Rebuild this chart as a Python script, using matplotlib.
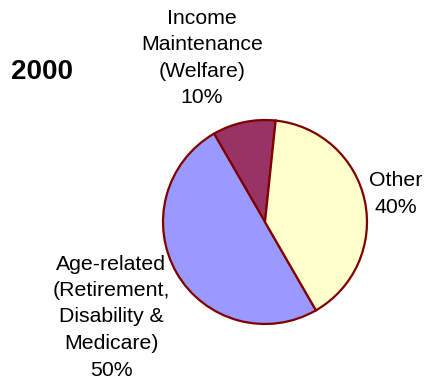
import matplotlib.pyplot as plt

plt.rcParams['font.family'] = ['Liberation Sans', 'DejaVu Sans']

# Budget shares, 2000
categories = ["Income\nMaintenance\n(Welfare)", "Age-related\n(Retirement,\nDisability &\nMedicare)", "Other"]
shares = [10, 50, 40]
colors = ["#993366", "#9999FF", "#FFFFCC"]
year = "2000"

W, H = 428, 379
fig = plt.figure(figsize=(W / 100, H / 100), dpi=100)

# pie centre and radius in pixels
cx, cy, r = 265, 222, 103
ax = fig.add_axes([(cx - r) / W, (H - cy - r) / H, 2 * r / W, 2 * r / H])
ax.pie(shares, colors=colors, startangle=84, counterclock=True,
       wedgeprops=dict(edgecolor="#800000", linewidth=1.6))
ax.set_xlim(-1.01, 1.01)
ax.set_ylim(-1.01, 1.01)
ax.axis("off")

# label positions (pixel coords of text centre)
label_pos = [(202, 58), (111, 317), (396, 194)]
for name, val, (x, y) in zip(categories, shares, label_pos):
    fig.text(x / W, 1 - y / H, f"{name}\n{val}%", ha="center", va="center",
             fontsize=15.3, linespacing=1.5)

fig.text(42 / W, 1 - 72 / H, year, ha="center", va="center",
         fontsize=20, fontweight="bold")

fig.savefig("out.png", dpi=100)
